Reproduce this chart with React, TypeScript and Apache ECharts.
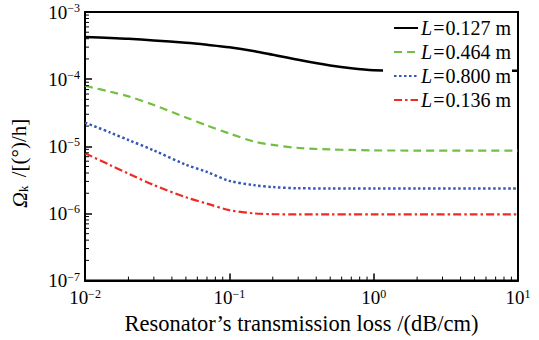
import React, { useEffect, useRef } from "react";
import * as echarts from "echarts";

const lossValues = [0.01, 0.015, 0.02, 0.03, 0.05, 0.07, 0.1, 0.15, 0.2, 0.3, 0.5, 0.7, 1, 2, 5, 10];
const seriesL0127 = [4.25e-4, 4.09e-4, 3.98e-4, 3.77e-4, 3.48e-4, 3.25e-4, 2.99e-4, 2.61e-4, 2.31e-4, 1.94e-4, 1.6e-4, 1.45e-4, 1.36e-4, 1.33e-4, 1.33e-4, 1.33e-4];
const seriesL0464 = [7.96e-5, 6.48e-5, 5.53e-5, 4.12e-5, 2.69e-5, 2.04e-5, 1.55e-5, 1.17e-5, 1.05e-5, 9.46e-6, 8.97e-6, 8.83e-6, 8.68e-6, 8.65e-6, 8.65e-6, 8.65e-6];
const seriesL0800 = [2.25e-5, 1.6e-5, 1.24e-5, 8.68e-6, 5.32e-6, 4.15e-6, 3.06e-6, 2.63e-6, 2.47e-6, 2.37e-6, 2.36e-6, 2.36e-6, 2.36e-6, 2.36e-6, 2.36e-6, 2.36e-6];
const seriesL0136 = [7.89e-6, 5.22e-6, 3.92e-6, 2.65e-6, 1.74e-6, 1.4e-6, 1.12e-6, 1.0e-6, 9.77e-7, 9.66e-7, 9.66e-7, 9.66e-7, 9.66e-7, 9.66e-7, 9.66e-7, 9.66e-7];
const seriesNames = ["0.127", "0.464", "0.800", "0.136"];

const xDecades = [0.01, 0.1, 1];
const yDecades = [1e-7, 1e-6, 1e-5, 1e-4];
const minorSteps = [2, 3, 4, 5, 6, 7, 8, 9];

const serif = "Liberation Serif";

function pow10Label(v: number) {
  const e = Math.round(Math.log10(v));
  const s = e < 0 ? "\u2212" + Math.abs(e) : String(e);
  return "{b|10}{s|" + s + "}";
}

const tickRich = {
  b: { fontSize: 19, fontFamily: serif, color: "#000" },
  s: { fontSize: 12, fontFamily: serif, color: "#000", verticalAlign: "top", padding: [0, 0, 8, 0] },
};

export default function App() {
  const ref = useRef<HTMLDivElement>(null);
  useEffect(() => {
    if (!ref.current) return;
    const chart = echarts.init(ref.current, null, { renderer: "svg" });
    const xMinor: number[][] = [];
    xDecades.forEach((d) => minorSteps.forEach((m) => xMinor.push([d * m])));
    const yMinor: number[][] = [];
    yDecades.forEach((d) => minorSteps.forEach((m) => yMinor.push([d * m])));

    const mk = (vals: number[]) => lossValues.map((x, i) => [x, vals[i]]);

    chart.setOption({
      animation: false,
      backgroundColor: "#fff",
      textStyle: { fontFamily: serif },
      grid: { left: 83, right: 21, top: 12, bottom: 56, show: true, borderColor: "#000", borderWidth: 2 },
      xAxis: {
        type: "log",
        logBase: 10,
        min: 0.01,
        max: 10,
        name: "Resonator\u2019s transmission loss /(dB/cm)",
        nameLocation: "middle",
        nameGap: 28,
        nameTextStyle: { fontFamily: serif, fontSize: 22.5, color: "#000" },
        axisLine: { lineStyle: { color: "#000", width: 2 } },
        axisTick: { inside: true, length: 7, lineStyle: { color: "#000", width: 1.5 } },
        splitLine: { show: false },
        axisLabel: { formatter: pow10Label, rich: tickRich, margin: 7, fontFamily: serif },
      },
      yAxis: {
        type: "log",
        logBase: 10,
        min: 1e-7,
        max: 1e-3,
        name: "{o|\u03A9}{k|k} /[(\u00B0)/h]",
        nameLocation: "middle",
        nameRotate: 90,
        nameGap: 55,
        nameTextStyle: {
          fontFamily: serif,
          fontSize: 21,
          color: "#000",
          padding: [0, 34, 0, 0],
          rich: {
            o: { fontFamily: serif, fontSize: 22, fontStyle: "italic", color: "#000" },
            k: { fontFamily: serif, fontSize: 13, color: "#000", verticalAlign: "bottom", padding: [6, 3, 0, 0] },
          },
        },
        axisLine: { lineStyle: { color: "#000", width: 2 } },
        axisTick: { inside: true, length: 7, lineStyle: { color: "#000", width: 1.5 } },
        splitLine: { show: false },
        axisLabel: { formatter: pow10Label, rich: tickRich, margin: 5, fontFamily: serif },
      },
      legend: {
        data: seriesNames.map((n) => "L=" + n),
        orient: "vertical",
        right: 27,
        top: 17,
        itemWidth: 24,
        itemHeight: 14,
        itemGap: 4,
        padding: [1, 1, 1, 10],
        backgroundColor: "#fff",
        itemStyle: { opacity: 0 },
        formatter: (name: string) => "{i|L}{e|=}" + name.slice(2) + " m",
        textStyle: {
          fontFamily: serif,
          fontSize: 20,
          color: "#000",
          padding: [0, 0, 0, -2],
          rich: {
            i: { fontFamily: serif, fontSize: 20, fontStyle: "italic", color: "#000" },
            e: { fontFamily: serif, fontSize: 20, color: "#000", padding: [0, 1, 0, 1] },
          },
        },
      },
      series: [
        {
          name: "L=" + seriesNames[0],
          type: "line",
          data: mk(seriesL0127),
          symbol: "none",
          smooth: 0.3,
          lineStyle: { color: "#000", width: 2.5, type: "solid" },
          itemStyle: { color: "#000" },
          z: 1,
        },
        {
          name: "L=" + seriesNames[1],
          type: "line",
          data: mk(seriesL0464),
          symbol: "none",
          smooth: 0.3,
          lineStyle: { color: "#72bf44", width: 2.2, type: [8, 5] },
          itemStyle: { color: "#72bf44" },
          z: 1,
        },
        {
          name: "L=" + seriesNames[2],
          type: "line",
          data: mk(seriesL0800),
          symbol: "none",
          smooth: 0.3,
          lineStyle: { color: "#3358b5", width: 2.5, type: [2.5, 2.5] },
          itemStyle: { color: "#3358b5" },
          z: 1,
        },
        {
          name: "L=" + seriesNames[3],
          type: "line",
          data: mk(seriesL0136),
          symbol: "none",
          smooth: 0.3,
          lineStyle: { color: "#ee2a24", width: 2.2, type: [8, 3, 2.5, 3] },
          itemStyle: { color: "#ee2a24" },
          z: 1,
        },
        {
          name: "xminor",
          type: "custom",
          data: xMinor,
          silent: true,
          renderItem: (params: any, api: any) => {
            const p = api.coord([api.value(0), 1e-7]);
            return {
              type: "line",
              shape: { x1: p[0], y1: p[1], x2: p[0], y2: p[1] - 4 },
              style: { stroke: "#000", lineWidth: 1 },
            };
          },
          z: 3,
        },
        {
          name: "yminor",
          type: "custom",
          data: yMinor,
          silent: true,
          encode: { y: 0 },
          renderItem: (params: any, api: any) => {
            const p = api.coord([0.01, api.value(0)]);
            return {
              type: "line",
              shape: { x1: p[0], y1: p[1], x2: p[0] + 4, y2: p[1] },
              style: { stroke: "#000", lineWidth: 1 },
            };
          },
          z: 3,
        },
      ],
    });
    return () => chart.dispose();
  }, []);
  return <div ref={ref} style={{ width: 539, height: 340, position: "absolute", left: 0, top: 0 }} />;
}
